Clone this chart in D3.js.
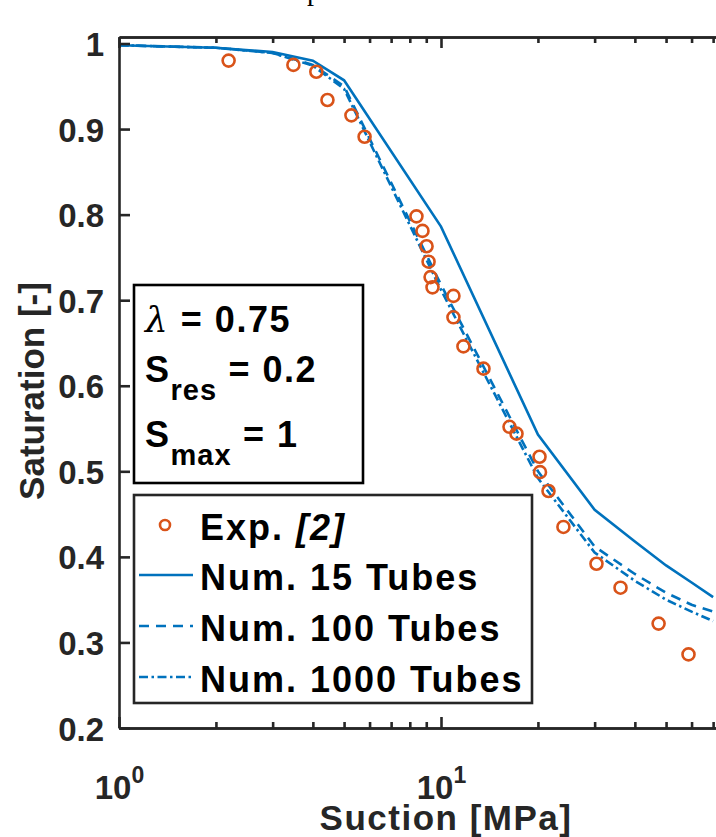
<!DOCTYPE html>
<html>
<head>
<meta charset="utf-8">
<script src="https://cdn.jsdelivr.net/npm/d3@7"></script>
<style>
  body { margin: 0; background: #fff; }
  svg { display: block; font-family: "Liberation Sans", Arial, sans-serif; font-weight: bold; }
</style>
</head>
<body>
<svg id="chart"></svg>
<script>
// suction values [MPa] where the tube models were evaluated
const suction = [1, 2, 3, 4, 5, 10, 20, 30, 40, 50, 60, 70];
const sat15 = [0.998, 0.995, 0.990, 0.980, 0.957, 0.786, 0.543, 0.455, 0.418, 0.390, 0.370, 0.353];
const sat100 = [0.998, 0.995, 0.989, 0.975, 0.950, 0.718, 0.500, 0.412, 0.380, 0.358, 0.344, 0.336];
const sat1000 = [0.998, 0.995, 0.989, 0.974, 0.947, 0.712, 0.492, 0.405, 0.372, 0.350, 0.336, 0.325];

// experimental points, ref [2]
const expSuction = [2.19, 3.48, 4.10, 4.44, 5.27, 5.79, 8.39, 8.76, 9.02, 9.15, 9.28, 9.41,
  10.93, 10.93, 11.74, 13.55, 16.32, 17.16, 20.23, 20.3, 21.57, 24.0, 30.4, 36.1, 47.4, 58.7];
const expSat = [0.980, 0.975, 0.967, 0.934, 0.916, 0.891, 0.798, 0.781, 0.763, 0.745, 0.727, 0.715,
  0.705, 0.680, 0.646, 0.620, 0.552, 0.544, 0.517, 0.499, 0.477, 0.435, 0.392, 0.364, 0.322, 0.286];

const yTicks = [0.2, 0.3, 0.4, 0.5, 0.6, 0.7, 0.8, 0.9, 1];
const xMajor = [1, 10];
const xMinor = [2, 3, 4, 5, 6, 7, 8, 9, 20, 30, 40, 50, 60, 70, 80, 90];
const legendLabels = ["Num. 15 Tubes", "Num. 100 Tubes", "Num. 1000 Tubes"];

const w = 716, h = 837;
const padL = 119, padT = 37, padB = 728;
const blue = "#0072BD", orange = "#D95319", axisCol = "#262626";

const svg = d3.select("#chart").attr("width", w).attr("height", h);

const x = d3.scaleLog().domain([1, 100]).range([padL, padL + 2 * 322]);
const y = d3.scaleLinear().domain([0.2, 1.0076]).range([padB, padT]);

svg.append("defs").append("clipPath").attr("id", "clip")
  .append("rect").attr("x", padL).attr("y", padT).attr("width", w - padL).attr("height", padB - padT);

// title fragment cut by the top edge
svg.append("text").attr("x", 307).attr("y", 0)
  .style("font-family", "'Liberation Serif', serif").style("font-weight", "normal")
  .style("font-size", "28px").text("p");

// series
const line = d3.line().x(d => x(d[0])).y(d => y(d[1]));
const series = [
  { v: sat15, dash: null },
  { v: sat100, dash: "10,7" },
  { v: sat1000, dash: "9,3.5,2.5,3.5" }
];
const plot = svg.append("g").attr("clip-path", "url(#clip)");
series.forEach(s => {
  plot.append("path")
    .datum(suction.map((d, i) => [d, s.v[i]]))
    .attr("fill", "none")
    .attr("stroke", blue)
    .attr("stroke-width", 2.6)
    .attr("stroke-dasharray", s.dash)
    .attr("d", line);
});

plot.selectAll("circle.exp")
  .data(expSuction.map((d, i) => [d, expSat[i]]))
  .join("circle")
  .attr("class", "exp")
  .attr("cx", d => x(d[0]))
  .attr("cy", d => y(d[1]))
  .attr("r", 6)
  .attr("fill", "none")
  .attr("stroke", orange)
  .attr("stroke-width", 2.6);

// axes
function styleAxis(g) {
  g.selectAll("path.domain").attr("stroke", axisCol).attr("stroke-width", 2.6);
  g.selectAll(".tick line").attr("stroke", axisCol).attr("stroke-width", 2.6);
}

const yAxis = svg.append("g")
  .attr("transform", `translate(${padL},0)`)
  .call(d3.axisLeft(y).tickValues(yTicks).tickSize(-11).tickSizeOuter(0).tickPadding(15)
    .tickFormat(d => d === 1 ? "1" : d3.format(".1f")(d)))
  .call(styleAxis);
yAxis.selectAll(".tick text")
  .attr("dy", "12px")
  .attr("fill", axisCol)
  .style("font-size", "33px")
  .style("font-family", "'Liberation Sans', Arial, sans-serif");

const xAxis = svg.append("g")
  .attr("transform", `translate(0,${padB})`)
  .call(d3.axisBottom(x).tickValues(xMajor).tickSize(-11).tickSizeOuter(0).tickFormat(""))
  .call(styleAxis);
xAxis.selectAll(".tick text").remove();
xAxis.selectAll(".tick").append("text")
  .attr("fill", axisCol)
  .attr("text-anchor", "middle")
  .attr("y", 71)
  .style("font-size", "33px")
  .each(function (d) {
    const t = d3.select(this);
    t.append("tspan").text("10");
    t.append("tspan").attr("dy", -16).style("font-size", "23px").text(Math.round(Math.log10(d)));
  });

svg.append("g")
  .attr("transform", `translate(0,${padB})`)
  .call(d3.axisBottom(x).tickValues(xMinor).tickSize(-6).tickSizeOuter(0).tickFormat(""))
  .call(styleAxis);

svg.append("g")
  .attr("transform", `translate(0,${padT})`)
  .call(d3.axisTop(x).tickValues(xMajor).tickSize(-11).tickSizeOuter(0).tickFormat(""))
  .call(styleAxis);
svg.append("g")
  .attr("transform", `translate(0,${padT})`)
  .call(d3.axisTop(x).tickValues(xMinor).tickSize(-6).tickSizeOuter(0).tickFormat(""))
  .call(styleAxis);

// axis labels
svg.append("text")
  .attr("x", 446).attr("y", 830)
  .attr("text-anchor", "middle")
  .attr("fill", axisCol)
  .style("font-size", "35px").style("letter-spacing", "1.5px")
  .text("Suction [MPa]");

svg.append("text")
  .attr("transform", "translate(44,391) rotate(-90)")
  .attr("text-anchor", "middle")
  .attr("fill", axisCol)
  .style("font-size", "35px")
  .text("Saturation [-]");

// parameter box
const pbox = svg.append("g");
pbox.append("rect").attr("x", 134).attr("y", 285).attr("width", 229).attr("height", 198)
  .attr("fill", "#fff").attr("stroke", "#000").attr("stroke-width", 2.6);
const lam = pbox.append("text").attr("x", 145).attr("y", 332).style("font-size", "36px").style("letter-spacing", "1.5px");
lam.append("tspan").style("font-family", "'DejaVu Serif', serif").style("font-style", "italic").style("font-weight", "normal").text("λ");
lam.append("tspan").text(" = 0.75");
[["res", " = 0.2", 382], ["max", " = 1", 447]].forEach(r => {
  const t = pbox.append("text").attr("x", 145).attr("y", r[2]).style("font-size", "36px").style("letter-spacing", "1.5px");
  t.append("tspan").text("S");
  t.append("tspan").attr("dy", 18).style("font-size", "29px").style("letter-spacing", "1px").text(r[0]);
  t.append("tspan").attr("dy", -18).text(r[1]);
});

// legend
const leg = svg.append("g");
leg.append("rect").attr("x", 134).attr("y", 495).attr("width", 398).attr("height", 208)
  .attr("fill", "#fff").attr("stroke", axisCol).attr("stroke-width", 2.6);
leg.append("circle").attr("cx", 165).attr("cy", 525).attr("r", 5)
  .attr("fill", "none").attr("stroke", orange).attr("stroke-width", 2.6);
const expLabel = leg.append("text").attr("x", 200).attr("y", 540).style("font-size", "36px").style("letter-spacing", "2px");
expLabel.append("tspan").text("Exp. ");
expLabel.append("tspan").style("font-style", "italic").text("[2]");
legendLabels.forEach((lab, i) => {
  const ly = 575 + i * 51;
  leg.append("line").attr("x1", 139).attr("x2", 193).attr("y1", ly).attr("y2", ly)
    .attr("stroke", blue).attr("stroke-width", 2.6).attr("stroke-dasharray", series[i].dash);
  leg.append("text").attr("x", 200).attr("y", ly + 15).style("font-size", "36px").style("letter-spacing", "2px").text(lab);
});
</script>
</body>
</html>
